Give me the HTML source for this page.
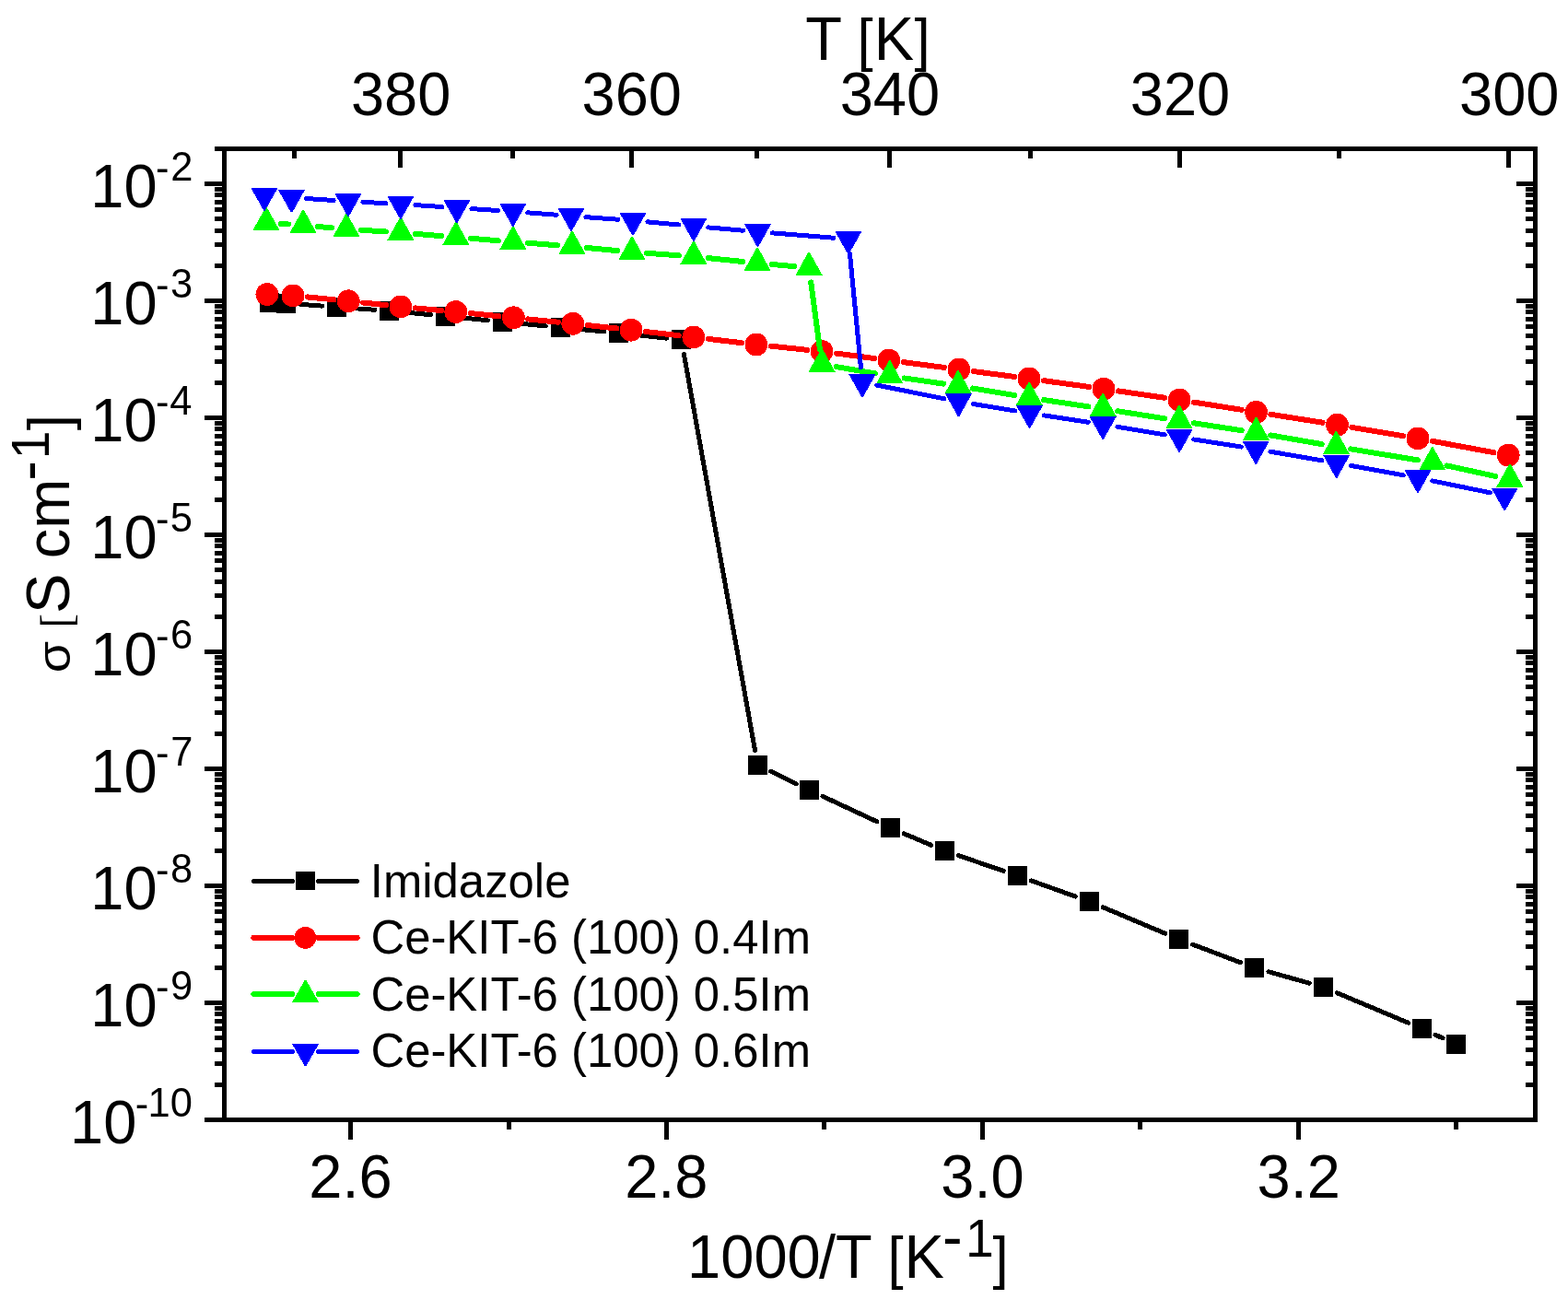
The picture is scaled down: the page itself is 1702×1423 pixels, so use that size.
<!DOCTYPE html>
<html lang="en">
<head>
<meta charset="utf-8">
<title>Conductivity vs 1000/T</title>
<style>
html,body{margin:0;padding:0;background:#fff;}
body{width:1702px;height:1423px;overflow:hidden;}
svg{display:block;}
</style>
</head>
<body>
<svg width="1702" height="1423" viewBox="0 0 1702 1423" font-family='"Liberation Sans", sans-serif' fill="#000">
<rect width="1702" height="1423" fill="#fff"/>
<g id="series" shape-rendering="crispEdges">
<g id="s-imidazole">
<path d="M326.36 330.39L349.54 332.11M381.46 334.44L406.94 336.26M438.83 338.92L467.57 341.68M499.42 344.77L529.38 347.73M561.23 350.84L592.37 353.86M624.23 356.93L655.97 359.97M687.81 363.24L723.69 367.16M742.43 384.65L819.57 814.65M836.8 837.37L864.2 850.63M893.1 864.37L951.9 891.83M981.14 904.82L1010.66 917.28M1040.54 928.68L1089.16 945.32M1119.36 955.9L1167.34 973.1M1197.14 984.72L1264.86 1013.28M1294.57 1025.15L1346.53 1044.75M1376.9 1054.73L1421.1 1067.17M1451.25 1077.7L1528.75 1110.3M1558.04 1123.18L1565.96 1126.82" fill="none" stroke="#000" stroke-width="5" stroke-linecap="round"/>
<rect x="281.9" y="317.9" width="21" height="21" fill="#000"/>
<rect x="299.9" y="318.7" width="21" height="21" fill="#000"/>
<rect x="355" y="322.8" width="21" height="21" fill="#000"/>
<rect x="412.4" y="326.9" width="21" height="21" fill="#000"/>
<rect x="473" y="332.7" width="21" height="21" fill="#000"/>
<rect x="534.8" y="338.8" width="21" height="21" fill="#000"/>
<rect x="597.8" y="344.9" width="21" height="21" fill="#000"/>
<rect x="661.4" y="351" width="21" height="21" fill="#000"/>
<rect x="729.1" y="358.4" width="21" height="21" fill="#000"/>
<rect x="811.9" y="819.9" width="21" height="21" fill="#000"/>
<rect x="868.1" y="847.1" width="21" height="21" fill="#000"/>
<rect x="955.9" y="888.1" width="21" height="21" fill="#000"/>
<rect x="1014.9" y="913" width="21" height="21" fill="#000"/>
<rect x="1093.8" y="940" width="21" height="21" fill="#000"/>
<rect x="1171.9" y="968" width="21" height="21" fill="#000"/>
<rect x="1269.1" y="1009" width="21" height="21" fill="#000"/>
<rect x="1351" y="1039.9" width="21" height="21" fill="#000"/>
<rect x="1426" y="1061" width="21" height="21" fill="#000"/>
<rect x="1533" y="1106" width="21" height="21" fill="#000"/>
<rect x="1570" y="1123" width="21" height="21" fill="#000"/>
</g>
<g id="s-04">
<path d="M333.92 322.46L362.38 325.24M394.21 328.51L418.99 331.19M450.83 334.39L478.87 337.01M510.72 340.1L541.48 343.2M573.32 346.41L605.88 349.69M637.71 353.03L669.19 356.47M700.99 360.03L736.91 364.17M768.69 367.87L805.01 372.13M836.81 375.68L876.19 379.82M907.96 383.59L949.04 389.01M980.77 393.17L1025.03 398.93M1056.76 403.08L1101.14 408.92M1132.85 413.17L1182.15 419.93M1213.83 424.41L1264.27 431.79M1295.9 436.6L1347.7 444.8M1379.3 449.8L1435.7 458.7M1467.28 463.85L1523.22 473.25M1554.73 478.82L1621.47 491.18" fill="none" stroke="#f00" stroke-width="6" stroke-linecap="round"/>
<circle cx="289.9" cy="319.5" r="12.4" fill="#f00"/>
<circle cx="318" cy="320.9" r="12.4" fill="#f00"/>
<circle cx="378.3" cy="326.8" r="12.4" fill="#f00"/>
<circle cx="434.9" cy="332.9" r="12.4" fill="#f00"/>
<circle cx="494.8" cy="338.5" r="12.4" fill="#f00"/>
<circle cx="557.4" cy="344.8" r="12.4" fill="#f00"/>
<circle cx="621.8" cy="351.3" r="12.4" fill="#f00"/>
<circle cx="685.1" cy="358.2" r="12.4" fill="#f00"/>
<circle cx="752.8" cy="366" r="12.4" fill="#f00"/>
<circle cx="820.9" cy="374" r="12.4" fill="#f00"/>
<circle cx="892.1" cy="381.5" r="12.4" fill="#f00"/>
<circle cx="964.9" cy="391.1" r="12.4" fill="#f00"/>
<circle cx="1040.9" cy="401" r="12.4" fill="#f00"/>
<circle cx="1117" cy="411" r="12.4" fill="#f00"/>
<circle cx="1198" cy="422.1" r="12.4" fill="#f00"/>
<circle cx="1280.1" cy="434.1" r="12.4" fill="#f00"/>
<circle cx="1363.5" cy="447.3" r="12.4" fill="#f00"/>
<circle cx="1451.5" cy="461.2" r="12.4" fill="#f00"/>
<circle cx="1539" cy="475.9" r="12.4" fill="#f00"/>
<circle cx="1637.2" cy="494.1" r="12.4" fill="#f00"/>
</g>
<g id="s-05">
<path d="M304.91 242.91L313.14 243.49M345.04 246.01L360.06 247.34M391.97 249.77L418.93 251.48M450.84 253.83L478.96 256.17M510.85 258.79L540.9 261.21M572.8 263.74L605.05 266.26M636.93 268.99L670.07 272.11M701.96 274.77L736.94 277.33M768.82 280.13L806.18 283.97M838.04 286.99L862.16 289.11M880.22 306.36L889.98 379.54M907.87 398.12L949.93 405.38M981.53 410.4L1024.17 416.6M1055.78 421.52L1101.42 429.08M1133.02 434.07L1181.38 441.33M1213 446.2L1264.2 454.3M1295.81 459.24L1347.69 467.26M1379.26 472.44L1434.64 482.06M1466.19 487.4L1539.01 499.4M1570.43 505.42L1623.27 516.98" fill="none" stroke="#0f0" stroke-width="6" stroke-linecap="round"/>
<path d="M274.4 250H303.5L289.75 225.15H288.15Z" fill="#0f0"/>
<path d="M314.55 252.8H343.65L329.9 227.95H328.3Z" fill="#0f0"/>
<path d="M361.45 256.95H390.55L376.8 232.1H375.2Z" fill="#0f0"/>
<path d="M420.35 260.7H449.45L435.7 235.85H434.1Z" fill="#0f0"/>
<path d="M480.35 265.7H509.45L495.7 240.85H494.1Z" fill="#0f0"/>
<path d="M542.3 270.7H571.4L557.65 245.85H556.05Z" fill="#0f0"/>
<path d="M606.45 275.7H635.55L621.8 250.85H620.2Z" fill="#0f0"/>
<path d="M671.45 281.8H700.55L686.8 256.95H685.2Z" fill="#0f0"/>
<path d="M738.35 286.7H767.45L753.7 261.85H752.1Z" fill="#0f0"/>
<path d="M807.55 293.8H836.65L822.9 268.95H821.3Z" fill="#0f0"/>
<path d="M863.55 298.7H892.65L878.9 273.85H877.3Z" fill="#0f0"/>
<path d="M877.55 403.6H906.65L892.9 378.75H891.3Z" fill="#0f0"/>
<path d="M951.15 416.3H980.25L966.5 391.45H964.9Z" fill="#0f0"/>
<path d="M1025.45 427.1H1054.55L1040.8 402.25H1039.2Z" fill="#0f0"/>
<path d="M1102.65 439.9H1131.75L1118 415.05H1116.4Z" fill="#0f0"/>
<path d="M1182.65 451.9H1211.75L1198 427.05H1196.4Z" fill="#0f0"/>
<path d="M1265.45 465H1294.55L1280.8 440.15H1279.2Z" fill="#0f0"/>
<path d="M1348.95 477.9H1378.05L1364.3 453.05H1362.7Z" fill="#0f0"/>
<path d="M1435.85 493H1464.95L1451.2 468.15H1449.6Z" fill="#0f0"/>
<path d="M1540.25 510.2H1569.35L1555.6 485.35H1554Z" fill="#0f0"/>
<path d="M1624.35 528.6H1653.45L1639.7 503.75H1638.1Z" fill="#0f0"/>
</g>
<g id="s-06">
<path d="M332.46 215.53L362.04 217.5M393.98 219.39L418.92 220.68M450.86 222.57L479.94 224.53M511.87 226.64L540.88 228.52M572.8 230.81L604.05 233.25M635.96 235.67L671.04 238.23M702.93 240.87L736.97 244.03M768.84 246.9L806.56 250.2M838.45 252.88L904.95 258.22M922.45 275.42L934.45 398.98M951.69 418.05L1024.81 432.75M1056.29 438.48L1101.71 445.92M1133.32 450.92L1181.38 458.28M1212.98 463.33L1264.32 471.87M1295.91 476.97L1347.39 485.03M1378.97 490.21L1434.93 499.84M1466.44 505.43L1523.26 515.82M1554.67 521.91L1617.53 534.79" fill="none" stroke="#00f" stroke-width="5" stroke-linecap="round"/>
<path d="M272.43 204H301.53L287.78 228.5H286.18Z" fill="#00f"/>
<path d="M301.95 205.96H331.05L317.3 230.46H315.7Z" fill="#00f"/>
<path d="M363.45 210.07H392.55L378.8 234.57H377.2Z" fill="#00f"/>
<path d="M420.35 213H449.45L435.7 237.5H434.1Z" fill="#00f"/>
<path d="M481.35 217.1H510.45L496.7 241.6H495.1Z" fill="#00f"/>
<path d="M542.3 221.06H571.4L557.65 245.56H556.05Z" fill="#00f"/>
<path d="M605.45 226H634.55L620.8 250.5H619.2Z" fill="#00f"/>
<path d="M672.45 230.9H701.55L687.8 255.4H686.2Z" fill="#00f"/>
<path d="M738.35 237H767.45L753.7 261.5H752.1Z" fill="#00f"/>
<path d="M807.95 243.1H837.05L823.3 267.6H821.7Z" fill="#00f"/>
<path d="M906.35 251H935.45L921.7 275.5H920.1Z" fill="#00f"/>
<path d="M921.45 406.4H950.55L936.8 430.9H935.2Z" fill="#00f"/>
<path d="M1025.95 427.4H1055.05L1041.3 451.9H1039.7Z" fill="#00f"/>
<path d="M1102.95 440H1132.05L1118.3 464.5H1116.7Z" fill="#00f"/>
<path d="M1182.65 452.2H1211.75L1198 476.7H1196.4Z" fill="#00f"/>
<path d="M1265.55 466H1294.65L1280.9 490.5H1279.3Z" fill="#00f"/>
<path d="M1348.65 479H1377.75L1364 503.5H1362.4Z" fill="#00f"/>
<path d="M1436.15 494.05H1465.25L1451.5 518.55H1449.9Z" fill="#00f"/>
<path d="M1524.45 510.2H1553.55L1539.8 534.7H1538.2Z" fill="#00f"/>
<path d="M1618.65 529.5H1647.75L1634 554H1632.4Z" fill="#00f"/>
</g>
</g>
<path id="axes" d="M233 161.5H1669M222 1215.5H1669M243.5 159V1218M1666.5 159V1218M222 199.5H243.5M1666.5 199.5H1646M222 326.5H243.5M1666.5 326.5H1646M222 453.5H243.5M1666.5 453.5H1646M222 580.5H243.5M1666.5 580.5H1646M222 707.5H243.5M1666.5 707.5H1646M222 834.5H243.5M1666.5 834.5H1646M222 961.5H243.5M1666.5 961.5H1646M222 1088.5H243.5M1666.5 1088.5H1646M233 288.27H243.5M1666.5 288.27H1656M233 265.91H243.5M1666.5 265.91H1656M233 250.04H243.5M1666.5 250.04H1656M233 237.73H243.5M1666.5 237.73H1656M233 227.67H243.5M1666.5 227.67H1656M233 219.17H243.5M1666.5 219.17H1656M233 211.81H243.5M1666.5 211.81H1656M233 205.31H243.5M1666.5 205.31H1656M233 415.27H243.5M1666.5 415.27H1656M233 392.91H243.5M1666.5 392.91H1656M233 377.04H243.5M1666.5 377.04H1656M233 364.73H243.5M1666.5 364.73H1656M233 354.67H243.5M1666.5 354.67H1656M233 346.17H243.5M1666.5 346.17H1656M233 338.81H243.5M1666.5 338.81H1656M233 332.31H243.5M1666.5 332.31H1656M233 542.27H243.5M1666.5 542.27H1656M233 519.91H243.5M1666.5 519.91H1656M233 504.04H243.5M1666.5 504.04H1656M233 491.73H243.5M1666.5 491.73H1656M233 481.67H243.5M1666.5 481.67H1656M233 473.17H243.5M1666.5 473.17H1656M233 465.81H243.5M1666.5 465.81H1656M233 459.31H243.5M1666.5 459.31H1656M233 669.27H243.5M1666.5 669.27H1656M233 646.91H243.5M1666.5 646.91H1656M233 631.04H243.5M1666.5 631.04H1656M233 618.73H243.5M1666.5 618.73H1656M233 608.67H243.5M1666.5 608.67H1656M233 600.17H243.5M1666.5 600.17H1656M233 592.81H243.5M1666.5 592.81H1656M233 586.31H243.5M1666.5 586.31H1656M233 796.27H243.5M1666.5 796.27H1656M233 773.91H243.5M1666.5 773.91H1656M233 758.04H243.5M1666.5 758.04H1656M233 745.73H243.5M1666.5 745.73H1656M233 735.67H243.5M1666.5 735.67H1656M233 727.17H243.5M1666.5 727.17H1656M233 719.81H243.5M1666.5 719.81H1656M233 713.31H243.5M1666.5 713.31H1656M233 923.27H243.5M1666.5 923.27H1656M233 900.91H243.5M1666.5 900.91H1656M233 885.04H243.5M1666.5 885.04H1656M233 872.73H243.5M1666.5 872.73H1656M233 862.67H243.5M1666.5 862.67H1656M233 854.17H243.5M1666.5 854.17H1656M233 846.81H243.5M1666.5 846.81H1656M233 840.31H243.5M1666.5 840.31H1656M233 1050.27H243.5M1666.5 1050.27H1656M233 1027.91H243.5M1666.5 1027.91H1656M233 1012.04H243.5M1666.5 1012.04H1656M233 999.73H243.5M1666.5 999.73H1656M233 989.67H243.5M1666.5 989.67H1656M233 981.17H243.5M1666.5 981.17H1656M233 973.81H243.5M1666.5 973.81H1656M233 967.31H243.5M1666.5 967.31H1656M233 1177.27H243.5M1666.5 1177.27H1656M233 1154.91H243.5M1666.5 1154.91H1656M233 1139.04H243.5M1666.5 1139.04H1656M233 1126.73H243.5M1666.5 1126.73H1656M233 1116.67H243.5M1666.5 1116.67H1656M233 1108.17H243.5M1666.5 1108.17H1656M233 1100.81H243.5M1666.5 1100.81H1656M233 1094.31H243.5M1666.5 1094.31H1656M1637.93 161.5V182M1453.58 161.5V172M1280.75 161.5V182M1118.39 161.5V172M965.59 161.5V182M821.52 161.5V172M685.45 161.5V182M556.74 161.5V172M434.8 161.5V182M319.11 161.5V172M380.66 1215.5V1237M552.1 1215.5V1226M723.55 1215.5V1237M894.99 1215.5V1226M1066.44 1215.5V1237M1237.89 1215.5V1226M1409.33 1215.5V1237M1580.78 1215.5V1226" fill="none" stroke="#000" stroke-width="5" shape-rendering="crispEdges"/>
<g id="ticklabels">
<text transform="translate(0 125.4) scale(1 1.03)" font-size="65"><tspan x="380.9" y="0">380</tspan></text>
<text transform="translate(0 125.4) scale(1 1.03)" font-size="65"><tspan x="631.56" y="0">360</tspan></text>
<text transform="translate(0 125.4) scale(1 1.03)" font-size="65"><tspan x="911.7" y="0">340</tspan></text>
<text transform="translate(0 125.4) scale(1 1.03)" font-size="65"><tspan x="1226.85" y="0">320</tspan></text>
<text transform="translate(0 125.4) scale(1 1.03)" font-size="65"><tspan x="1584.03" y="0">300</tspan></text>
<text transform="translate(0 1300) scale(1 1.03)" font-size="65"><tspan x="335.27" y="0">2.6</tspan></text>
<text transform="translate(0 1300) scale(1 1.03)" font-size="65"><tspan x="678.15" y="0">2.8</tspan></text>
<text transform="translate(0 1300) scale(1 1.03)" font-size="65"><tspan x="1021.29" y="0">3.0</tspan></text>
<text transform="translate(0 1300) scale(1 1.03)" font-size="65"><tspan x="1364.55" y="0">3.2</tspan></text>
<text transform="translate(0 225) scale(1 1.03)" font-size="65"><tspan x="98.34" y="0">10</tspan><tspan x="169.07" y="-27.38" font-size="43.5">-</tspan><tspan x="185.2" y="-28.06" font-size="43.5">2</tspan></text>
<text transform="translate(0 352) scale(1 1.03)" font-size="65"><tspan x="98.34" y="0">10</tspan><tspan x="169.07" y="-27.38" font-size="43.5">-</tspan><tspan x="184.92" y="-28.06" font-size="43.5">3</tspan></text>
<text transform="translate(0 479) scale(1 1.03)" font-size="65"><tspan x="98.34" y="0">10</tspan><tspan x="169.07" y="-27.38" font-size="43.5">-</tspan><tspan x="184.28" y="-28.06" font-size="43.5">4</tspan></text>
<text transform="translate(0 606) scale(1 1.03)" font-size="65"><tspan x="98.34" y="0">10</tspan><tspan x="169.07" y="-27.38" font-size="43.5">-</tspan><tspan x="184.83" y="-28.06" font-size="43.5">5</tspan></text>
<text transform="translate(0 733) scale(1 1.03)" font-size="65"><tspan x="98.34" y="0">10</tspan><tspan x="169.07" y="-27.38" font-size="43.5">-</tspan><tspan x="184.92" y="-28.06" font-size="43.5">6</tspan></text>
<text transform="translate(0 860) scale(1 1.03)" font-size="65"><tspan x="98.34" y="0">10</tspan><tspan x="169.07" y="-27.38" font-size="43.5">-</tspan><tspan x="185.2" y="-28.06" font-size="43.5">7</tspan></text>
<text transform="translate(0 987) scale(1 1.03)" font-size="65"><tspan x="98.34" y="0">10</tspan><tspan x="169.07" y="-27.38" font-size="43.5">-</tspan><tspan x="184.9" y="-28.06" font-size="43.5">8</tspan></text>
<text transform="translate(0 1114) scale(1 1.03)" font-size="65"><tspan x="98.34" y="0">10</tspan><tspan x="169.07" y="-27.38" font-size="43.5">-</tspan><tspan x="185.07" y="-28.06" font-size="43.5">9</tspan></text>
<text transform="translate(0 1241) scale(1 1.03)" font-size="65"><tspan x="76.04" y="0">10</tspan><tspan x="146.77" y="-27.38" font-size="43.5">-</tspan><tspan x="160.51" y="-28.06" font-size="43.5">10</tspan></text>
</g>
<g id="titles">
<text transform="translate(0 65) scale(1 1.03)" font-size="65"><tspan x="874.34" y="0">T </tspan><tspan x="930.61" y="0" font-size="61.6">[</tspan><tspan x="948.87" y="0">K</tspan><tspan x="992.52" y="0" font-size="61.6">]</tspan></text>
<text transform="translate(0 1386.9) scale(1 1.03)" font-size="65"><tspan x="746.11" y="0">1000</tspan><tspan x="888.9" y="0">/T </tspan><tspan x="963.61" y="0" font-size="61.6">[</tspan><tspan x="981.57" y="0">K</tspan><tspan x="1023.11" y="-21.65">-</tspan><tspan x="1047.91" y="-22.14" font-size="55.3">1</tspan><tspan x="1077.42" y="0" font-size="61.6">]</tspan></text>
<text transform="translate(75.6 728) rotate(-90) scale(1.068 0.972)" font-size="52" x="-2.18" y="0">σ </text>
<text transform="translate(75.4 728) rotate(-90) scale(1 1.03)" font-size="65"><tspan x="46.55" y="1.17" font-size="46.5" font-family='"Liberation Serif", serif'>[</tspan><tspan x="62.05" y="0">S </tspan><tspan x="121.74" y="0">cm</tspan><tspan x="206.31" y="-21.65">-</tspan><tspan x="229.81" y="-22.14" font-size="55.3">1</tspan><tspan x="260.67" y="0" font-size="61.6">]</tspan></text>
</g>
<g id="legend" shape-rendering="crispEdges">
<path d="M275.4 956.5H317.4M345.6 956.5H387.6" fill="none" stroke="#000" stroke-width="5" stroke-linecap="round"/>
<rect x="321" y="946" width="21" height="20" fill="#000"/>
<text transform="translate(0 973.9) scale(1 1.015)" font-size="50.86"><tspan x="401.81" y="0">Imidazole</tspan></text>
<path d="M275.4 1017.9H317.3M345.5 1017.9H387.6" fill="none" stroke="#f00" stroke-width="6" stroke-linecap="round"/>
<circle cx="331.4" cy="1017.9" r="11.9" fill="#f00"/>
<text transform="translate(0 1034.6) scale(1 1.015)" font-size="50.86"><tspan x="402.42" y="0">Ce-KIT-6 (100) 0.4Im</tspan></text>
<path d="M275.4 1079H317.5M345.7 1079H387.6" fill="none" stroke="#0f0" stroke-width="6" stroke-linecap="round"/>
<path d="M317.05 1088.07H346.15L332.4 1063.9H330.8Z" fill="#0f0"/>
<text transform="translate(0 1096.8) scale(1 1.015)" font-size="50.86"><tspan x="402.42" y="0">Ce-KIT-6 (100) 0.5Im</tspan></text>
<path d="M275.4 1141.5H317.5M345.7 1141.5H387.6" fill="none" stroke="#00f" stroke-width="5" stroke-linecap="round"/>
<path d="M317.05 1133H346.15L332.4 1157.1H330.8Z" fill="#00f"/>
<text transform="translate(0 1157.9) scale(1 1.015)" font-size="50.86"><tspan x="402.42" y="0">Ce-KIT-6 (100) 0.6Im</tspan></text>
</g>
</svg>
</body>
</html>
